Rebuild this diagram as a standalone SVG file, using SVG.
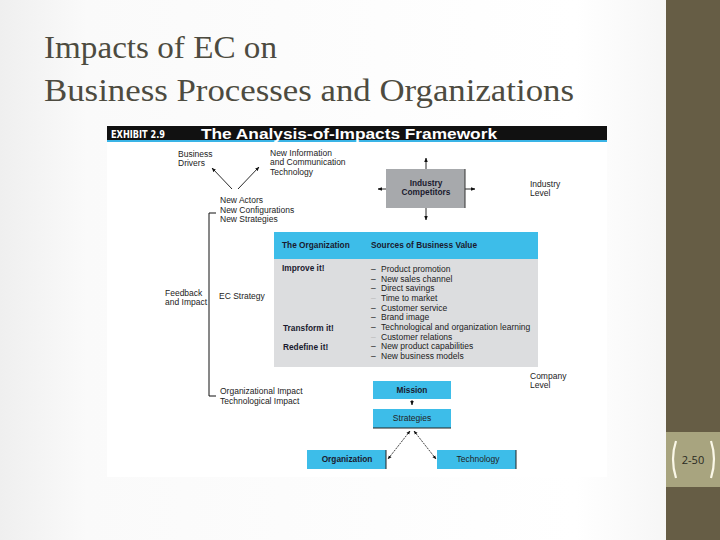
<svg xmlns="http://www.w3.org/2000/svg" width="720" height="540" viewBox="0 0 720 540">
<defs>
<linearGradient id="bg" x1="0" y1="0" x2="1" y2="0">
<stop offset="0" stop-color="#efefef"/>
<stop offset="0.12" stop-color="#fafafa"/>
<stop offset="0.8" stop-color="#ffffff"/>
<stop offset="1" stop-color="#f1f1f1"/>
</linearGradient>
<marker id="ah" viewBox="0 0 10 10" refX="9" refY="5" markerWidth="5" markerHeight="5" orient="auto-start-reverse">
<path d="M0,1 L10,5 L0,9 z" fill="#111"/>
</marker>
<style>
.t{font-family:"Liberation Sans",Arial,sans-serif;font-size:8.5px;fill:#222}
.b{font-family:"Liberation Sans",Arial,sans-serif;font-size:8.3px;font-weight:bold;fill:#1a1a2e}
.ln{stroke:#111;stroke-width:1;fill:none}
.ar{stroke:#111;stroke-width:0.9;fill:none;marker-end:url(#ah)}
.da{stroke:#111;stroke-width:0.8;fill:none;stroke-dasharray:2,1;marker-start:url(#ah);marker-end:url(#ah)}
.blue{fill:#3dbde9}
</style>
</defs>
<rect width="720" height="540" fill="url(#bg)"/>
<rect x="666" y="0" width="54" height="540" fill="#665d45"/>
<rect x="666" y="432" width="54" height="55" fill="#a8a47f"/>
<path d="M676,441 Q670,459 676,478" stroke="#fbf8e8" stroke-width="2.2" fill="none"/>
<path d="M711,441 Q717,459 711,478" stroke="#fbf8e8" stroke-width="2.2" fill="none"/>
<text x="693" y="464" text-anchor="middle" font-family="'Open Sans','Liberation Sans',sans-serif" font-size="11" fill="#2a2a22">2-50</text>
<g id="title" font-family="'Liberation Serif','DejaVu Serif',serif" font-size="31" fill="#4d4b40">
<text x="44" y="58" textLength="233" lengthAdjust="spacingAndGlyphs">Impacts of EC on</text>
<text x="44" y="101" textLength="530" lengthAdjust="spacingAndGlyphs">Business Processes and Organizations</text>
</g>
<rect x="107" y="125" width="500" height="352" fill="#ffffff"/>
<g id="header">
<rect x="107" y="126" width="500" height="14" fill="#111"/>
<rect x="107" y="140" width="500" height="2" fill="#3ab4e6"/>
<text x="111" y="138" font-family="'DejaVu Sans Condensed','Liberation Sans Narrow',sans-serif" font-weight="bold" font-size="10.5" fill="#fff" textLength="54" lengthAdjust="spacingAndGlyphs">EXHIBIT 2.9</text>
<text x="201" y="139" font-family="'Liberation Sans',Arial,sans-serif" font-weight="bold" font-size="14" fill="#fff" textLength="296" lengthAdjust="spacingAndGlyphs">The Analysis-of-Impacts Framework</text>
</g>
<g id="connectors">
<line class="ar" x1="232" y1="189" x2="212" y2="168"/>
<line class="ar" x1="238" y1="189" x2="259" y2="167"/>
<polyline class="ln" points="216,213 209,213 209,396 216,396"/>
<line class="ar" x1="426" y1="175" x2="426" y2="158"/>
<line class="ar" x1="426" y1="200" x2="426" y2="220"/>
<line class="ar" x1="405" y1="189" x2="378" y2="189"/>
<line class="ar" x1="448" y1="189" x2="475" y2="189"/>
<line class="ar" x1="412" y1="400" x2="412" y2="405"/>
<line class="da" x1="410" y1="431" x2="388" y2="459"/>
<line class="da" x1="414" y1="431" x2="436" y2="459"/>
</g>
<g id="drivers">
<text class="t" x="178" y="157">Business</text>
<text class="t" x="178" y="166">Drivers</text>
</g>
<g id="ict">
<text class="t" x="270" y="156">New Information</text>
<text class="t" x="270" y="165">and Communication</text>
<text class="t" x="270" y="175">Technology</text>
</g>
<g id="actors">
<text class="t" x="220" y="203">New Actors</text>
<text class="t" x="220" y="213">New Configurations</text>
<text class="t" x="220" y="222">New Strategies</text>
</g>
<g id="industry">
<rect x="386" y="169" width="79" height="39" fill="#a7a9ac"/>
<line x1="465" y1="169" x2="465" y2="208" stroke="#333" stroke-width="1"/>
<rect x="405" y="178" width="42" height="22" fill="#a7a9ac"/>
<text class="b" x="426" y="186" text-anchor="middle">Industry</text>
<text class="b" x="426" y="195" text-anchor="middle">Competitors</text>
</g>
<g id="industry-level">
<text class="t" x="530" y="187">Industry</text>
<text class="t" x="530" y="196">Level</text>
</g>
<g id="feedback">
<text class="t" x="165" y="296">Feedback</text>
<text class="t" x="165" y="305">and Impact</text>
</g>
<g id="ecstrategy">
<text class="t" x="219" y="299">EC Strategy</text>
</g>
<g id="organization-box">
<rect x="274" y="232" width="264" height="27" class="blue"/>
<rect x="274" y="259" width="264" height="108" fill="#dcdddf"/>
<text class="b" x="282" y="248">The Organization</text>
<text class="b" x="371" y="248">Sources of Business Value</text>
<text class="b" x="282" y="271">Improve it!</text>
<text class="b" x="283" y="331">Transform it!</text>
<text class="b" x="283" y="350">Redefine it!</text>
<g class="t">
<text x="371" y="272">–</text><text x="381" y="272">Product promotion</text>
<text x="371" y="282">–</text><text x="381" y="282">New sales channel</text>
<text x="371" y="291">–</text><text x="381" y="291">Direct savings</text>
<text x="371" y="301" fill="#bbb">–</text><text x="381" y="301">Time to market</text>
<text x="371" y="311">–</text><text x="381" y="311">Customer service</text>
<text x="371" y="320">–</text><text x="381" y="320">Brand image</text>
<text x="371" y="330">–</text><text x="381" y="330">Technological and organization learning</text>
<text x="371" y="340" fill="#bbb">–</text><text x="381" y="340">Customer relations</text>
<text x="371" y="349">–</text><text x="381" y="349">New product capabilities</text>
<text x="371" y="359">–</text><text x="381" y="359">New business models</text>
</g>
</g>
<g id="company-level">
<text class="t" x="530" y="379">Company</text>
<text class="t" x="530" y="388">Level</text>
</g>
<g id="impacts">
<text class="t" x="220" y="394">Organizational Impact</text>
<text class="t" x="220" y="404">Technological Impact</text>
</g>
<g id="mission">
<rect x="373" y="381" width="78" height="18" class="blue"/>
<text class="b" x="412" y="393" text-anchor="middle">Mission</text>
</g>
<g id="strategies">
<rect x="373" y="409" width="78" height="19" class="blue"/>
<line x1="373" y1="428" x2="451" y2="428" stroke="#222" stroke-width="1"/>
<text class="t" x="412" y="421" text-anchor="middle">Strategies</text>
</g>
<g id="organization">
<rect x="307" y="450" width="79" height="19" class="blue"/>
<line x1="386" y1="450" x2="386" y2="469" stroke="#222" stroke-width="1"/>
<text class="b" x="347" y="462" text-anchor="middle">Organization</text>
</g>
<g id="technology">
<rect x="437" y="450" width="79" height="19" class="blue"/>
<line x1="516" y1="450" x2="516" y2="469" stroke="#222" stroke-width="1"/>
<text class="t" x="478" y="462" text-anchor="middle">Technology</text>
</g>
</svg>
